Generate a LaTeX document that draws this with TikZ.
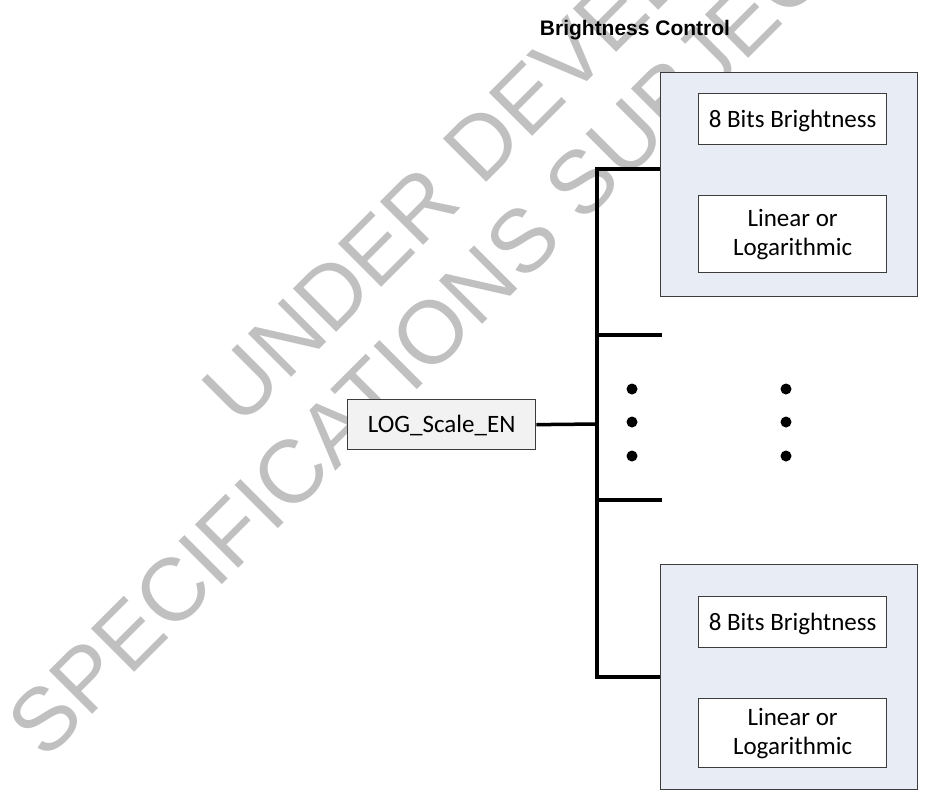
\documentclass[tikz,border=0pt]{standalone}
\usepackage{fontspec}
\setmainfont{Carlito}
\newfontfamily\headfont{Liberation Sans}
\newfontfamily\markfont{Liberation Sans}

\definecolor{panelfill}{RGB}{232,236,244}
\definecolor{tagfill}{RGB}{242,242,242}
\definecolor{edgegray}{RGB}{60,60,60}
\definecolor{markgray}{RGB}{192,192,192}

\begin{document}
\begin{tikzpicture}[x=1pt,y=-1pt,
  panel/.style={draw=edgegray, line width=1.3pt, fill=panelfill,
    anchor=north west, inner sep=0pt, minimum width=257pt},
  field/.style={draw=edgegray, line width=1.3pt, fill=white,
    anchor=north west, inner sep=0pt, minimum width=188pt,
    font=\fontsize{25}{29}\selectfont, align=center},
  oneline/.style={text height=16pt, text depth=0pt},
  tag/.style={draw=edgegray, line width=1.3pt, fill=tagfill,
    anchor=north west, inner sep=0pt, minimum width=188pt, minimum height=50pt,
    font=\fontsize{25}{29}\selectfont, text height=16pt, text depth=0pt},
  wire/.style={line width=3.5pt, black},
  watermark/.style={markgray, font=\markfont\fontsize{89}{100}\selectfont,
    rotate=45, anchor=base west, inner sep=0pt},
  dot/.style={black}
]
\useasboundingbox (0,0) rectangle (930,804);

% background watermark
\begin{scope}
  \clip (0,0) rectangle (930,804);
  \node[watermark] (wmA) at (240.5,428.5) {UNDER DEVELOPMENT};
  \node[watermark] (wmB) at (45,762) {SPECIFICATIONS SUBJECT TO CHANGE};
\end{scope}

% title
\node[font=\headfont\bfseries\fontsize{21}{25}\selectfont, anchor=base, inner sep=0pt]
  (title) at (635,35) {Brightness Control};

% upper brightness block
\node[panel, minimum height=224pt] (top) at (660,72) {};
\node[field, oneline, minimum height=51pt] (topbits) at (698,93) {8 Bits Brightness};
\node[field, minimum height=77pt] (topmode) at (698,195) {Linear or\\Logarithmic};

% lower brightness block
\node[panel, minimum height=225pt] (bot) at (660,564) {};
\node[field, oneline, minimum height=51pt] (botbits) at (698,596) {8 Bits Brightness};
\node[field, minimum height=69pt] (botmode) at (698,698) {Linear or\\Logarithmic};

% enable input
\node[tag] (log) at (347,399) {LOG\_Scale\_EN};

% bus and branches
\coordinate (jtop) at (597,169);
\coordinate (jbot) at (597,677);
\coordinate (jlog) at (597,424);
\coordinate (stubA) at (662,335);
\coordinate (stubB) at (662,500);

\draw[wire] (top.west |- jtop) -- (jtop) -- (jbot) -- (bot.west |- jbot);
\draw[wire] (log.east) -- (jlog);
\draw[wire] (jtop |- stubA) -- (stubA);
\draw[wire] (jtop |- stubB) -- (stubB);

% ellipsis dots
\foreach \yy in {389,422,456} {
  \fill[dot] (632,\yy) circle[radius=5.5pt];
  \fill[dot] (786,\yy) circle[radius=5.5pt];
}
\end{tikzpicture}
\end{document}
